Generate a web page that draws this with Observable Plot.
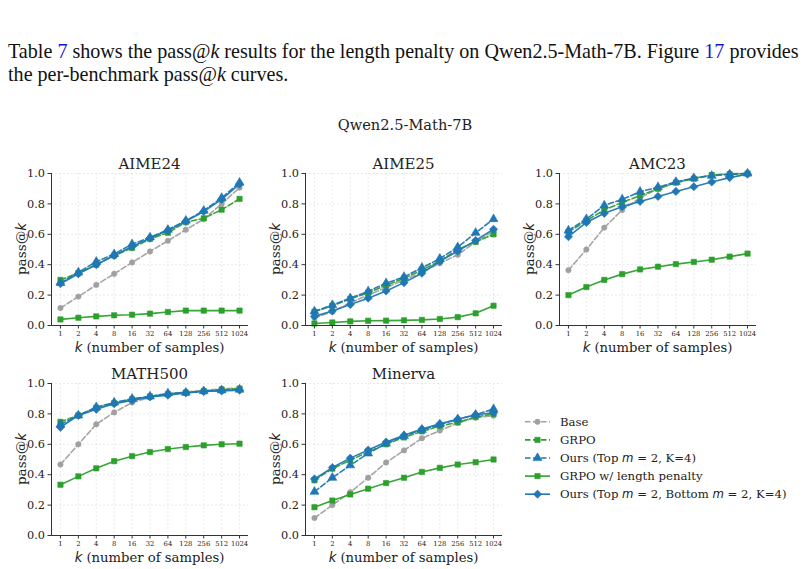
<!DOCTYPE html>
<html>
<head>
<meta charset="utf-8">
<script src="https://cdn.jsdelivr.net/npm/d3@7"></script>
<script src="https://cdn.jsdelivr.net/npm/@observablehq/plot@0.6"></script>
<style>
  html, body { margin: 0; padding: 0; background: #fff; }
  #page { position: relative; width: 805px; height: 569px; overflow: hidden; background: #fff; }
  .abs { position: absolute; white-space: nowrap; }
  .para { font-family: "Liberation Serif", "Times New Roman", serif; font-size: 20.1px; color: #111; line-height: 23px; }
  .para .ref { color: #1414d2; }
  .serif { font-family: "DejaVu Serif", serif; color: #222; }
  .mi { font-family: "DejaVu Sans", sans-serif; font-style: italic; }
  .center { transform: translate(-50%, -50%); }
  .panel { position: absolute; }
</style>
</head>
<body>
<div id="page">
  <div class="abs para" style="left:8px; top:40px;">
    Table <span class="ref">7</span> shows the pass@<i>k</i> results for the length penalty on Qwen2.5-Math-7B. Figure <span class="ref">17</span> provides<br>
    the per-benchmark pass@<i>k</i> curves.
  </div>
  <div class="abs serif center" style="left:405px; top:124px; font-size:14.6px;">Qwen2.5-Math-7B</div>
</div>
<script>
// k values on the x axis
const kLabels = ["1", "2", "4", "8", "16", "32", "64", "128", "256", "512", "1024"];
const yTicks = [0, 0.2, 0.4, 0.6, 0.8, 1.0];
const benchmarks = ["AIME24", "AIME25", "AMC23", "MATH500", "Minerva"];
const seriesNames = ["Base", "GRPO", "Ours (Top m = 2, K=4)", "GRPO w/ length penalty", "Ours (Top m = 2, Bottom m = 2, K=4)"];

// pass@k per benchmark and method
const aime24Base   = [0.115, 0.19, 0.267, 0.34, 0.415, 0.487, 0.557, 0.63, 0.70, 0.80, 0.907];
const aime24Grpo   = [0.30, 0.345, 0.40, 0.46, 0.51, 0.57, 0.61, 0.68, 0.705, 0.762, 0.833];
const aime24Top    = [0.28, 0.35, 0.42, 0.47, 0.535, 0.58, 0.63, 0.69, 0.755, 0.84, 0.94];
const aime24GrpoLP = [0.04, 0.051, 0.06, 0.067, 0.071, 0.078, 0.089, 0.098, 0.098, 0.098, 0.098];
const aime24TopBot = [0.275, 0.34, 0.40, 0.46, 0.52, 0.575, 0.625, 0.685, 0.75, 0.83, 0.93];

const aime25Base   = [0.05, 0.09, 0.15, 0.20, 0.25, 0.30, 0.35, 0.41, 0.465, 0.55, 0.62];
const aime25Grpo   = [0.09, 0.13, 0.175, 0.215, 0.265, 0.31, 0.365, 0.425, 0.50, 0.55, 0.60];
const aime25Top    = [0.093, 0.135, 0.18, 0.225, 0.278, 0.32, 0.38, 0.44, 0.515, 0.61, 0.70];
const aime25GrpoLP = [0.013, 0.02, 0.027, 0.031, 0.032, 0.034, 0.037, 0.043, 0.055, 0.08, 0.13];
const aime25TopBot = [0.06, 0.096, 0.138, 0.18, 0.227, 0.282, 0.344, 0.422, 0.489, 0.56, 0.633];

const amc23Base   = [0.364, 0.50, 0.644, 0.76, 0.84, 0.90, 0.94, 0.97, 0.99, 1.0, 1.0];
const amc23Grpo   = [0.615, 0.69, 0.76, 0.81, 0.855, 0.90, 0.94, 0.965, 0.99, 0.995, 1.0];
const amc23Top    = [0.625, 0.70, 0.79, 0.83, 0.88, 0.91, 0.945, 0.97, 0.985, 0.995, 1.0];
const amc23GrpoLP = [0.20, 0.253, 0.30, 0.338, 0.369, 0.387, 0.404, 0.418, 0.433, 0.453, 0.473];
const amc23TopBot = [0.584, 0.678, 0.738, 0.782, 0.816, 0.849, 0.882, 0.913, 0.944, 0.973, 0.996];

const math500Base   = [0.467, 0.60, 0.732, 0.81, 0.875, 0.91, 0.93, 0.945, 0.955, 0.965, 0.97];
const math500Grpo   = [0.748, 0.79, 0.84, 0.87, 0.895, 0.915, 0.93, 0.94, 0.95, 0.96, 0.965];
const math500Top    = [0.73, 0.79, 0.845, 0.875, 0.90, 0.915, 0.935, 0.94, 0.95, 0.955, 0.96];
const math500GrpoLP = [0.334, 0.389, 0.442, 0.489, 0.522, 0.549, 0.569, 0.582, 0.593, 0.60, 0.604];
const math500TopBot = [0.712, 0.79, 0.83, 0.867, 0.889, 0.912, 0.923, 0.938, 0.947, 0.951, 0.956];

const minervaBase   = [0.115, 0.20, 0.285, 0.38, 0.48, 0.56, 0.64, 0.69, 0.74, 0.775, 0.788];
const minervaGrpo   = [0.363, 0.44, 0.495, 0.55, 0.60, 0.645, 0.685, 0.72, 0.745, 0.78, 0.80];
const minervaTop    = [0.288, 0.38, 0.462, 0.54, 0.605, 0.655, 0.695, 0.73, 0.765, 0.795, 0.832];
const minervaGrpoLP = [0.186, 0.23, 0.27, 0.308, 0.345, 0.38, 0.418, 0.445, 0.467, 0.482, 0.50];
const minervaTopBot = [0.372, 0.447, 0.509, 0.562, 0.615, 0.659, 0.701, 0.735, 0.765, 0.794, 0.808];

const panelSeries = [
  [aime24Base, aime24Grpo, aime24Top, aime24GrpoLP, aime24TopBot],
  [aime25Base, aime25Grpo, aime25Top, aime25GrpoLP, aime25TopBot],
  [amc23Base, amc23Grpo, amc23Top, amc23GrpoLP, amc23TopBot],
  [math500Base, math500Grpo, math500Top, math500GrpoLP, math500TopBot],
  [minervaBase, minervaGrpo, minervaTop, minervaGrpoLP, minervaTopBot]
];

// line / marker style for each method, in drawing order
const seriesStyle = [
  {color: "#a0a0a0", dash: "5.5,2.5", symbol: "circle", r: 2.7},
  {color: "#2ca02c", dash: "5.5,2.5", symbol: "square", r: 3.0},
  {color: "#1f77b4", dash: "5.5,2.5", symbol: "triangle", r: 3.3},
  {color: "#2ca02c", dash: null, symbol: "square", r: 3.0},
  {color: "#1f77b4", dash: null, symbol: "diamond2", r: 3.7}
];

// panel placement: [left, top] of each svg
const panelPos = [[0, 150], [254, 150], [508, 150], [0, 360], [254, 360]];
const W = 270, H = 211, ML = 51, MR = 22, MT = 23, MB = 36;

const page = document.getElementById("page");
const idx = d3.range(kLabels.length);

function addText(html, x, y, cls, style) {
  const el = document.createElement("div");
  el.className = "abs center " + cls;
  el.style.left = x + "px";
  el.style.top = y + "px";
  if (style) el.setAttribute("style", el.getAttribute("style") + ";" + style);
  el.innerHTML = html;
  page.appendChild(el);
  return el;
}

const gridStyle = {stroke: "#e4e4e4", strokeOpacity: 1, strokeWidth: 0.8, strokeDasharray: "2,2"};

benchmarks.forEach((name, p) => {
  const marks = [
    Plot.gridX(idx, gridStyle),
    Plot.gridY(yTicks, gridStyle),
    Plot.axisX(idx, {tickFormat: i => kLabels[i], fontSize: 6.8, tickSize: 3.5, tickPadding: 2.5, label: null, stroke: "#333", fill: "#222"}),
    Plot.axisY(yTicks, {tickFormat: d3.format(".1f"), fontSize: 11.3, tickSize: 3.5, tickPadding: 3, label: null, stroke: "#333", fill: "#222"})
  ];
  panelSeries[p].forEach((vals, s) => {
    const st = seriesStyle[s];
    const rows = vals.map((v, i) => ({i, k: kLabels[i], v, method: seriesNames[s]}));
    marks.push(Plot.line(rows, {x: "i", y: "v", stroke: st.color, strokeWidth: 1.6, strokeDasharray: st.dash || undefined, strokeOpacity: 0.95}));
    marks.push(Plot.dot(rows, {x: "i", y: "v", symbol: st.symbol, r: st.r, fill: st.color, stroke: st.color, strokeWidth: 0.6}));
  });
  marks.push(Plot.ruleX([-0.5], {stroke: "#333", strokeWidth: 1}));
  marks.push(Plot.ruleY([0], {stroke: "#333", strokeWidth: 1}));

  const chart = Plot.plot({
    width: W, height: H,
    marginLeft: ML, marginRight: MR, marginTop: MT, marginBottom: MB,
    x: {type: "linear", domain: [-0.5, kLabels.length - 0.5]},
    y: {domain: [0, 1]},
    style: {fontFamily: "DejaVu Serif", color: "#222", background: "transparent", overflow: "visible"},
    marks
  });
  const [left, top] = panelPos[p];
  chart.classList.add("panel");
  chart.style.left = left + "px";
  chart.style.top = top + "px";
  page.appendChild(chart);

  const cx = left + ML + (W - ML - MR) / 2;
  const cy = top + MT + (H - MT - MB) / 2;
  addText(name, cx, top + 13.5, "serif", "font-size:15px");
  addText('<span class="mi">k</span> (number of samples)', cx, top + 196.5, "serif", "font-size:13.2px");
  const yl = addText('pass@<span class="mi">k</span>', left + 21, cy, "serif", "font-size:13.6px");
  yl.style.transform = "translate(-50%, -50%) rotate(-90deg)";
});

// legend in the empty sixth cell
const legendItems = seriesNames.map((n, s) => ({name: n, ...seriesStyle[s]}));
const legendLabels = [
  "Base",
  "GRPO",
  'Ours (Top <tspan class="mi">m</tspan> = 2, K=4)',
  "GRPO w/ length penalty",
  'Ours (Top <tspan class="mi">m</tspan> = 2, Bottom <tspan class="mi">m</tspan> = 2, K=4)'
];
const lg = d3.select(page).append("svg")
  .attr("width", 285).attr("height", 100)
  .style("position", "absolute").style("left", "520px").style("top", "410px");
legendItems.forEach((it, j) => {
  const y = 11.8 + j * 18.1;
  const g = lg.append("g");
  g.append("line").attr("x1", 5).attr("x2", 30).attr("y1", y).attr("y2", y)
    .attr("stroke", it.color).attr("stroke-width", 1.6)
    .attr("stroke-dasharray", it.dash || null);
  const sym = {circle: d3.symbolCircle, square: d3.symbolSquare, triangle: d3.symbolTriangle, diamond2: d3.symbolDiamond2}[it.symbol];
  g.append("path").attr("d", d3.symbol(sym, Math.PI * it.r * it.r)())
    .attr("transform", `translate(17.5,${y})`).attr("fill", it.color).attr("stroke", it.color).attr("stroke-width", 0.6);
  g.append("text").attr("x", 40).attr("y", y).attr("dy", "0.35em")
    .attr("font-family", "DejaVu Serif").attr("font-size", 11.7).attr("fill", "#222")
    .html(legendLabels[j]);
});
</script>
</body>
</html>
